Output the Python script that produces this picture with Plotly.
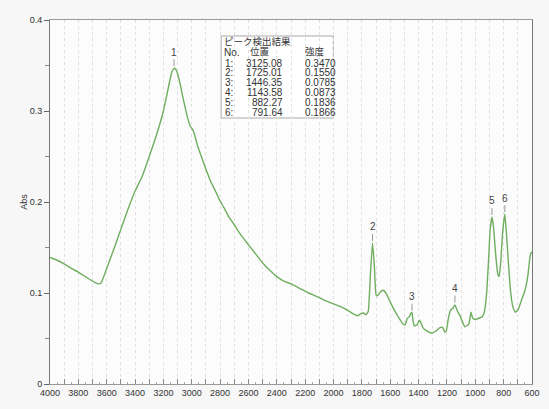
import plotly.graph_objects as go

# ---- data ----
wavenumber = [4000, 3950, 3900, 3850, 3800, 3750, 3700, 3660, 3640, 3600, 3550, 3500, 3450, 3400,
              3350, 3300, 3250, 3200, 3170, 3150, 3140, 3130, 3120, 3110, 3100, 3085, 3060, 3030, 3010, 2995,
              2980, 2960, 2930, 2900, 2870, 2830, 2800, 2770, 2740, 2700, 2680, 2650, 2610, 2550,
              2500, 2450, 2400, 2350, 2300, 2250, 2200, 2175, 2100, 2050, 2000, 1950, 1900, 1860,
              1830, 1810, 1790, 1770, 1755, 1740, 1725, 1712, 1700, 1690, 1670, 1650, 1630, 1600,
              1570, 1540, 1510, 1495, 1480, 1465, 1453, 1446, 1440, 1430, 1410, 1395, 1385, 1370,
              1340, 1310, 1280, 1250, 1230, 1215, 1205, 1190, 1175, 1160, 1144, 1125, 1105, 1090,
              1075, 1060, 1045, 1030, 1020, 1005, 980, 950, 935, 920, 905, 895, 882, 870, 855, 840,
              832, 820, 808, 792, 780, 765, 750, 735, 718, 700, 685, 670, 655, 645, 630, 620, 610, 600]
absorbance = [0.139, 0.136, 0.132, 0.127, 0.123, 0.118, 0.113, 0.110, 0.111, 0.127, 0.148, 0.170, 0.192, 0.212,
              0.228, 0.250, 0.273, 0.300, 0.322, 0.337, 0.343, 0.346, 0.347, 0.345, 0.341, 0.332, 0.313, 0.293, 0.283, 0.280,
              0.274, 0.262, 0.249, 0.236, 0.224, 0.211, 0.201, 0.193, 0.184, 0.175, 0.170, 0.163, 0.155, 0.143,
              0.133, 0.125, 0.118, 0.113, 0.110, 0.106, 0.102, 0.100, 0.095, 0.091, 0.088, 0.085, 0.081, 0.077,
              0.075, 0.077, 0.078, 0.076, 0.080, 0.120, 0.155, 0.130, 0.098, 0.097, 0.101, 0.103, 0.100, 0.090,
              0.081, 0.073, 0.066, 0.065, 0.072, 0.074, 0.078, 0.0785, 0.070, 0.064, 0.065, 0.070, 0.068, 0.062,
              0.058, 0.056, 0.058, 0.062, 0.062, 0.057, 0.058, 0.072, 0.081, 0.083, 0.087, 0.080, 0.074, 0.068,
              0.063, 0.064, 0.066, 0.079, 0.073, 0.071, 0.072, 0.074, 0.080, 0.100, 0.140, 0.170, 0.1836, 0.170, 0.140, 0.120,
              0.118, 0.135, 0.165, 0.1866, 0.165, 0.130, 0.100, 0.085, 0.079, 0.081, 0.087, 0.094, 0.100, 0.106, 0.118, 0.132, 0.143, 0.145]

peak_no = ["1", "2", "3", "4", "5", "6"]
peak_pos = [3125.08, 1725.01, 1446.35, 1143.58, 882.27, 791.64]
peak_int = [0.3470, 0.1550, 0.0785, 0.0873, 0.1836, 0.1866]

x_tick_vals = list(range(4000, 599, -100))
x_tick_text = [str(v) if v % 200 == 0 else "" for v in x_tick_vals]

table_title = "ピーク検出結果"
table_headers = ["No.", "位置", "強度"]

# ---- layout helpers (pixel -> paper) ----
L, R, T, B = 50, 540, 20, 384
def px(x):
    return (x - L) / (R - L)
def py(y):
    return (B - y) / (B - T)

NUM_FONT = "Liberation Sans, Arial, sans-serif"
JP_FONT = "Noto Sans CJK JP, sans-serif"
TXT = "#333"

fig = go.Figure()
fig.add_trace(go.Scatter(x=wavenumber, y=absorbance, mode="lines",
                         line=dict(color="#6fae5f", width=1.4, shape="spline", smoothing=0.4),
                         hoverinfo="skip", showlegend=False))

annotations = []
for n, xp, yp in zip(peak_no, peak_pos, peak_int):
    annotations.append(dict(x=xp, y=yp, xref="x", yref="y", text=n, showarrow=True,
                            arrowhead=0, arrowwidth=1, arrowcolor="#999", ax=0, ay=-16,
                            standoff=2, font=dict(family=NUM_FONT, size=10, color="#444")))

def cell(x, y, text, anchor, family, size=10):
    return dict(x=px(x), y=py(y), xref="paper", yref="paper", text=text, showarrow=False,
                xanchor=anchor, yanchor="middle", borderpad=0,
                font=dict(family=family, size=size, color=TXT))

# table
annotations.append(cell(226, 41, table_title, "left", JP_FONT, 9.5))
annotations.append(cell(226, 52.5, table_headers[0], "left", NUM_FONT))
annotations.append(cell(263, 51, table_headers[1], "center", JP_FONT, 9.5))
annotations.append(cell(308, 51, table_headers[2], "left", JP_FONT, 9.5))
for i, (n, xp, yp) in enumerate(zip(peak_no, peak_pos, peak_int)):
    yy = 63 + 9.9 * i
    annotations.append(cell(237, yy, n + ":", "right", NUM_FONT))
    annotations.append(cell(288, yy, f"{xp:.2f}", "right", NUM_FONT))
    annotations.append(cell(308, yy, f"{yp:.4f}", "left", NUM_FONT))

shapes = [dict(type="rect", xref="paper", yref="paper", x0=px(224), x1=px(338), y0=py(118), y1=py(36),
               line=dict(color="#aaa", width=1), fillcolor="white", layer="below")]

fig.update_layout(
    width=549, height=409,
    margin=dict(l=L, r=549 - R, t=T, b=409 - B),
    paper_bgcolor="#f7f7f7", plot_bgcolor="#fcfcfc",
    annotations=annotations, shapes=shapes,
    font=dict(family=NUM_FONT, size=9, color=TXT),
)
fig.update_xaxes(range=[4000, 600], tickmode="array", tickvals=x_tick_vals, ticktext=x_tick_text,
                 ticks="inside", ticklen=5, tickcolor="#888",
                 minor=dict(dtick=50, ticks="inside", ticklen=2, tickcolor="#aaa", showgrid=False),
                 showgrid=True, gridcolor="#e0e0e0", griddash="dot", gridwidth=1,
                 showline=True, linecolor="#999", linewidth=1, mirror=True,
                 zeroline=False, tickfont=dict(size=9, color=TXT))
fig.update_yaxes(range=[0, 0.4], dtick=0.1, tick0=0, ticks="outside", ticklen=5, tickcolor="#666",
                 minor=dict(dtick=0.05, ticks="outside", ticklen=4, tickcolor="#888", showgrid=False),
                 showgrid=False, showline=True, linecolor="#777", linewidth=1, mirror=True,
                 zeroline=False, tickfont=dict(size=9, color=TXT),
                 title=dict(text="Abs", font=dict(size=9, color=TXT), standoff=0))

fig.write_html("out.html")
